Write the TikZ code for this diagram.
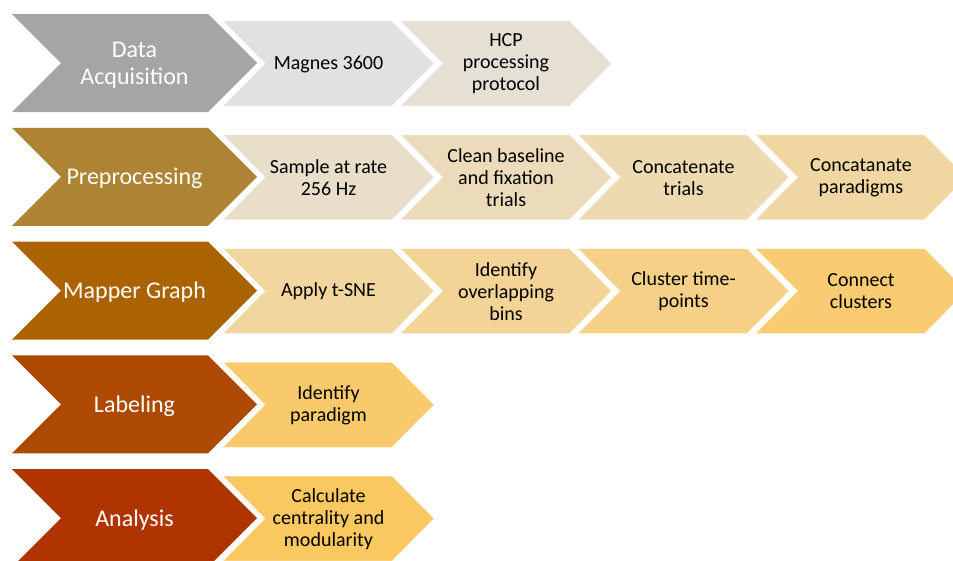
\documentclass[tikz,border=0pt]{standalone}
\usepackage{fontspec}
\setmainfont{Carlito}

% stage colours (left column) and step colours
\definecolor{stageA}{HTML}{A5A5A5}
\definecolor{stageB}{HTML}{AD8433}
\definecolor{stageC}{HTML}{AB6200}
\definecolor{stageD}{HTML}{AD4900}
\definecolor{stageE}{HTML}{B03400}
\definecolor{stepAa}{HTML}{E1E1E1}
\definecolor{stepAb}{HTML}{E6DFD4}
\definecolor{stepBa}{HTML}{E8DEC9}
\definecolor{stepBb}{HTML}{EBDBBB}
\definecolor{stepBc}{HTML}{EEDAB0}
\definecolor{stepBd}{HTML}{F0D6A2}
\definecolor{stepCa}{HTML}{F1D69F}
\definecolor{stepCb}{HTML}{F3D496}
\definecolor{stepCc}{HTML}{F6D087}
\definecolor{stepCd}{HTML}{F9CC73}
\definecolor{stepDa}{HTML}{F9CA6B}
\definecolor{stepEa}{HTML}{F9C860}

% large stage chevron: top edge, colour, node name, label
\newcommand\stagechev[4]{%
  \fill[#2] (12,#1) -- (208,#1) -- (257,#1+49) -- (208,#1+98)
    -- (12,#1+98) -- (61,#1+49) -- cycle;
  \node[stagetext] (#3) at (134.5,#1+51) {#4};}

% smaller step chevron: left edge, top edge, colour, node name, label
\newcommand\stepchev[5]{%
  \path[fill=#3, stepedge] (#1,#2) -- (#1+169,#2) -- (#1+211,#2+42.5)
    -- (#1+169,#2+85) -- (#1,#2+85) -- (#1+42,#2+42.5) -- cycle;
  \node[steptext] (#4) at (#1+105.5,#2+43) {#5};}

\begin{document}
\begin{tikzpicture}[x=1pt,y=-1pt,
  stagetext/.style={text=white, align=center, inner sep=0pt,
    font=\fontsize{24}{26.5}\selectfont},
  steptext/.style={text=black, align=center, inner sep=0pt,
    font=\fontsize{20}{22}\selectfont},
  stepedge/.style={draw=white, draw opacity=0.5, line width=0.8pt}]
\useasboundingbox (0,0) rectangle (953,560);

% Data acquisition
\stagechev{14}{stageA}{acq}{Data\\Acquisition}
\stepchev{223}{21}{stepAa}{magnes}{Magnes 3600}
\stepchev{400.5}{21}{stepAb}{hcp}{HCP\\processing\\protocol}

% Preprocessing
\stagechev{127.75}{stageB}{prep}{Preprocessing}
\stepchev{223}{134.75}{stepBa}{sample}{Sample at rate\\256 Hz}
\stepchev{400.5}{134.75}{stepBb}{clean}{Clean baseline\\and fixation\\trials}
\stepchev{578}{134.75}{stepBc}{cattrials}{Concatenate\\trials}
\stepchev{755.5}{134.75}{stepBd}{catpar}{Concatanate\\paradigms}

% Mapper graph
\stagechev{241.5}{stageC}{mapper}{Mapper Graph}
\stepchev{223}{248.5}{stepCa}{tsne}{Apply t-SNE}
\stepchev{400.5}{248.5}{stepCb}{bins}{Identify\\overlapping\\bins}
\stepchev{578}{248.5}{stepCc}{cluster}{Cluster time-\\points}
\stepchev{755.5}{248.5}{stepCd}{connect}{Connect\\clusters}

% Labeling
\stagechev{355.25}{stageD}{label}{Labeling}
\stepchev{223}{362.25}{stepDa}{paradigm}{Identify\\paradigm}

% Analysis
\stagechev{469}{stageE}{analysis}{Analysis}
\stepchev{223}{476}{stepEa}{central}{Calculate\\centrality and\\modularity}
\end{tikzpicture}
\end{document}
